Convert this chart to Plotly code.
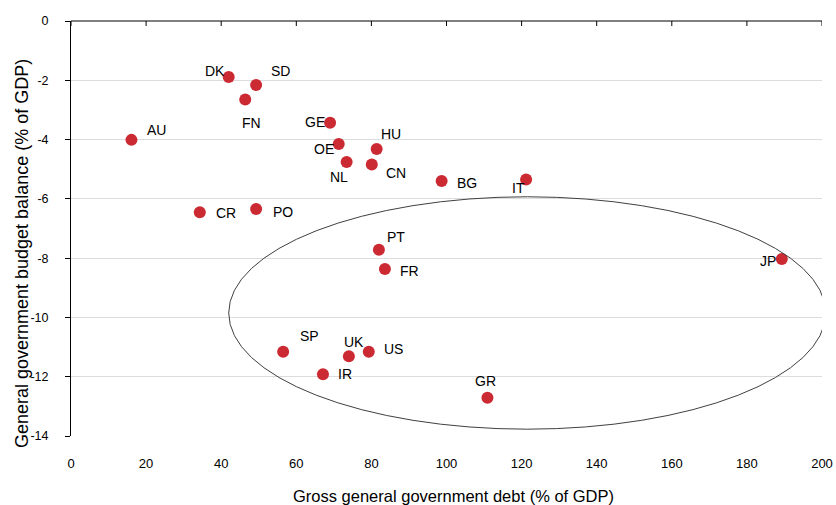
import plotly.graph_objects as go

# ---- data ----
countries = ["DK", "SD", "FN", "AU", "CR", "PO", "GE", "OE", "NL", "HU", "CN",
             "BG", "IT", "PT", "FR", "SP", "UK", "US", "IR", "GR", "JP"]
debt = [42.0, 49.3, 46.4, 16.1, 34.3, 49.3, 69.0, 71.3, 73.4, 81.4, 80.1,
        98.7, 121.2, 82.0, 83.6, 56.5, 74.0, 79.3, 67.1, 110.9, 189.3]
balance = [-1.89, -2.16, -2.65, -4.01, -6.45, -6.34, -3.43, -4.15, -4.76, -4.32, -4.84,
           -5.40, -5.35, -7.72, -8.37, -11.16, -11.31, -11.16, -11.92, -12.71, -8.03]

x_ticks = [0, 20, 40, 60, 80, 100, 120, 140, 160, 180, 200]
y_ticks = [0, -2, -4, -6, -8, -10, -12, -14]
y_tick_labels = ["0", "-2", "-4", "-6", "-8", "-10", "-12", "-14"]

x_title = "Gross general government debt (% of GDP)"
y_title = "General government budget balance (% of GDP)"

# ellipse highlighting the high-deficit group (data coords)
ellipse_x = [42.0, 201.0]
ellipse_y = [-13.77, -5.93]

# label offsets in pixels (style only)
label_shift = {
    "DK": (-14, 6), "SD": (24, 14), "FN": (6, -23), "AU": (25, 10), "CR": (26, -1),
    "PO": (27, -3), "GE": (-15, 1), "OE": (-15, -5), "NL": (-8, -15), "HU": (14, 15),
    "CN": (24, -9), "BG": (25, -2), "IT": (-8, -8), "PT": (17, 13), "FR": (25, -2),
    "SP": (26, 16), "UK": (5, 14), "US": (25, 3), "IR": (22, 0), "GR": (-2, 17),
    "JP": (-14, -2),
}

FONT = "Liberation Sans, Arial, sans-serif"

fig = go.Figure()
fig.add_trace(go.Scatter(
    x=debt, y=balance, mode="markers",
    marker=dict(size=12, color="#CC2A33", line=dict(width=0)),
    hoverinfo="skip", showlegend=False, cliponaxis=False,
))

for c, xv, yv in zip(countries, debt, balance):
    dx, dy = label_shift[c]
    fig.add_annotation(x=xv, y=yv, text=c, showarrow=False,
                       xshift=dx, yshift=dy, xanchor="center", yanchor="middle",
                       font=dict(family=FONT, size=14, color="#000000"))

# axis titles placed as paper annotations
fig.add_annotation(xref="paper", yref="paper", x=0.5087, y=-0.1446, text=x_title,
                   showarrow=False, xanchor="center", yanchor="middle",
                   font=dict(family=FONT, size=16.5, color="#000000"))
fig.add_annotation(xref="paper", yref="paper", x=-0.0645, y=0.4398, text=y_title,
                   textangle=-90, showarrow=False, xanchor="center", yanchor="middle",
                   font=dict(family=FONT, size=18, color="#000000"))

fig.add_shape(type="circle", xref="x", yref="y",
              x0=ellipse_x[0], x1=ellipse_x[1], y0=ellipse_y[0], y1=ellipse_y[1],
              line=dict(color="#404040", width=1), layer="above")

# x-axis line crossing at y = 0 (top of the plot) with inward tick marks
fig.add_shape(type="line", xref="paper", yref="paper", x0=0, x1=1, y0=1, y1=1,
              line=dict(color="#000000", width=1))
for t in x_ticks:
    fig.add_shape(type="line", xref="x", yref="paper", x0=t, x1=t,
                  ysizemode="pixel", yanchor=1, y0=0, y1=-5,
                  line=dict(color="#000000", width=1))

fig.update_layout(
    width=836, height=505,
    margin=dict(l=71, r=14, t=21, b=69, autoexpand=False),
    paper_bgcolor="white", plot_bgcolor="white",
    font=dict(family=FONT, size=12, color="#000000"),
    xaxis=dict(range=[0, 200], tickvals=x_ticks, showline=False, ticks="",
               showgrid=False, zeroline=False, ticklabelstandoff=18, automargin=False,
               tickfont=dict(size=13, color="#000000")),
    yaxis=dict(range=[-14, 0], tickvals=y_ticks, ticktext=y_tick_labels,
               showline=True, linecolor="#000000", linewidth=1,
               ticks="outside", ticklen=5, tickcolor="#000000",
               ticklabelstandoff=14, automargin=False,
               showgrid=True, gridcolor="#DCDCDC", gridwidth=1, zeroline=False,
               tickfont=dict(size=12.5, color="#000000")),
)

fig.write_html("out.html", config={"displayModeBar": False},
               post_script="document.body.style.margin='0';document.body.style.overflow='hidden';")
